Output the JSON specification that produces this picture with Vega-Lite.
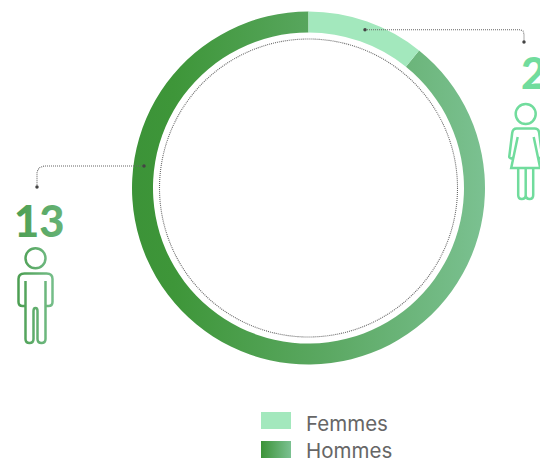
{"$schema":"https://vega.github.io/schema/vega-lite/v6.json","width":540,"height":461,"padding":0,"autosize":{"type":"none"},"background":"#ffffff","config":{"view":{"stroke":null}},
"datasets":{"genres":[{"genre":"Femmes","effectif":1.57},{"genre":"Hommes","effectif":13}],"liens":[{"lien":"f","lx":365,"ly":29.7},{"lien":"f","lx":520,"ly":29.7},{"lien":"f","lx":523,"ly":31},{"lien":"f","lx":524,"ly":34},{"lien":"f","lx":524,"ly":42},{"lien":"h","lx":144,"ly":166},{"lien":"h","lx":44,"ly":166},{"lien":"h","lx":39,"ly":168},{"lien":"h","lx":37,"ly":172},{"lien":"h","lx":37,"ly":187}],"bouts":[{"lx":365,"ly":29.7},{"lx":524,"ly":42},{"lx":144,"ly":166},{"lx":37,"ly":187}]},
"layer":[
{"data":{"name":"genres"},"transform":[{"stack":"effectif","groupby":[],"sort":[{"field":"genre"}],"as":["t0","t1"]},{"filter":"datum.genre==='Hommes'"}],"mark":{"type":"arc","radius":176.5,"radius2":155.5,"strokeWidth":0,"fill":{"gradient":"linear","x1":0,"x2":1,"y1":0,"y2":0,"stops":[{"offset":0,"color":"#3c9338"},{"offset":0.12,"color":"#3e9639"},{"offset":0.55,"color":"#5ba862"},{"offset":1,"color":"#7bc191"}]}},
"encoding":{"x":{"datum":308.5,"type":"quantitative","scale":{"domain":[0,540],"range":[0,540],"nice":false,"zero":false},"axis":null},"y":{"datum":188,"type":"quantitative","scale":{"domain":[0,461],"range":[0,461],"nice":false,"zero":false},"axis":null},
"theta":{"field":"t0","type":"quantitative","scale":{"domain":[0,14.57]}},"theta2":{"field":"t1"}}},
{"data":{"name":"genres"},"transform":[{"stack":"effectif","groupby":[],"sort":[{"field":"genre"}],"as":["t0","t1"]},{"filter":"datum.genre==='Femmes'"}],"mark":{"type":"arc","radius":176.5,"radius2":155.5,"strokeWidth":0,"fill":"#a3e8bd"},
"encoding":{"x":{"datum":308.5,"type":"quantitative"},"y":{"datum":188,"type":"quantitative"},"theta":{"field":"t0","type":"quantitative"},"theta2":{"field":"t1"}}},
{"data":{"values":[{}]},"mark":{"type":"point","shape":"circle","filled":false,"opacity":1,"stroke":"#666666","strokeWidth":1.1,"strokeDash":[1,1],"size":88804},"encoding":{"x":{"datum":308.5,"type":"quantitative"},"y":{"datum":188,"type":"quantitative"}}},
{"data":{"name":"liens"},"mark":{"type":"line","stroke":"#666666","strokeWidth":1.1,"strokeDash":[1,1]},"encoding":{"x":{"field":"lx","type":"quantitative"},"y":{"field":"ly","type":"quantitative"},"detail":{"field":"lien"},"order":{"value":null}}},
{"data":{"name":"bouts"},"mark":{"type":"point","shape":"circle","filled":true,"fill":"#444444","opacity":1,"size":12,"strokeWidth":0},"encoding":{"x":{"field":"lx","type":"quantitative"},"y":{"field":"ly","type":"quantitative"}}},
{"data":{"values":[{"n":"13"}]},"mark":{"type":"text","font":"Lato","fontWeight":900,"fontSize":43.5,"align":"left","baseline":"alphabetic","fill":{"gradient":"linear","x1":0,"x2":1,"y1":0,"y2":0,"stops":[{"offset":0,"color":"#4c9e52"},{"offset":1,"color":"#67b377"}]}},"encoding":{"x":{"datum":14,"type":"quantitative"},"y":{"datum":237,"type":"quantitative"},"text":{"field":"n"}}},
{"data":{"values":[{"n":"2"}]},"mark":{"type":"text","font":"Lato","fontWeight":900,"fontSize":43.5,"align":"left","baseline":"alphabetic","fill":"#71dc9d"},"encoding":{"x":{"datum":521,"type":"quantitative"},"y":{"datum":88.5,"type":"quantitative"},"text":{"field":"n"}}},
{"data":{"values":[{}]},"mark":{"type":"point","filled":false,"opacity":1,"size":4,"strokeWidth":2.5,"stroke":{"gradient":"linear","x1":0,"x2":1,"y1":0,"y2":0,"stops":[{"offset":0,"color":"#4c9e52"},{"offset":1,"color":"#74bd88"}]},
"shape":"M-10,-41.7a10,10 0 1,0 20,0a10,10 0 1,0 -20,0M-10,-19V39Q-10,43 -6,43Q-2,43 -2,39V11Q-2,8 0,8Q2,8 2,11V39Q2,43 6,43Q10,43 10,39V-19M-10,6H-13Q-17,6 -17,2V-21Q-17,-26.5 -11,-26.5H11Q17,-26.5 17,-21V2Q17,6 13,6H10"},"encoding":{"x":{"datum":35.5,"type":"quantitative"},"y":{"datum":300,"type":"quantitative"}}},
{"data":{"values":[{}]},"mark":{"type":"point","filled":false,"opacity":1,"size":4,"strokeWidth":2.5,"stroke":"#71dc9d",
"shape":"M-10,-36a10,10 0 1,0 20,0a10,10 0 1,0 -20,0M-8,-13L-14.5,18H14.5L8,-13M-11.7,6.7Q-15,10 -16.5,7L-13.5,-17Q-13,-21.5 -9,-21.5H9Q13,-21.5 13.5,-17L16.5,7Q15,10 11.7,6.7M-7.5,18V45Q-7.5,49 -4,49Q0,49 0,45V18M0,45Q0,49 4,49Q7.5,49 7.5,45V18"},"encoding":{"x":{"datum":525.7,"type":"quantitative"},"y":{"datum":150,"type":"quantitative"}}},
{"data":{"values":[{"genre":"Femmes"}]},"mark":{"type":"rect","fill":"#a3e8bd"},"encoding":{"x":{"datum":261,"type":"quantitative"},"x2":{"datum":291},"y":{"datum":412,"type":"quantitative"},"y2":{"datum":429}}},
{"data":{"values":[{"genre":"Hommes"}]},"mark":{"type":"rect","fill":{"gradient":"linear","x1":0,"x2":1,"y1":0,"y2":0,"stops":[{"offset":0,"color":"#3c9338"},{"offset":1,"color":"#7bc191"}]}},"encoding":{"x":{"datum":261,"type":"quantitative"},"x2":{"datum":291},"y":{"datum":441,"type":"quantitative"},"y2":{"datum":458}}},
{"data":{"values":[{"genre":"Femmes"}]},"mark":{"type":"text","font":"Inter","fontSize":20.5,"fill":"#666666","align":"left","baseline":"alphabetic"},"encoding":{"x":{"datum":306,"type":"quantitative"},"y":{"datum":430.5,"type":"quantitative"},"text":{"field":"genre"}}},
{"data":{"values":[{"genre":"Hommes"}]},"mark":{"type":"text","font":"Inter","fontSize":20.5,"fill":"#666666","align":"left","baseline":"alphabetic"},"encoding":{"x":{"datum":306,"type":"quantitative"},"y":{"datum":457.5,"type":"quantitative"},"text":{"field":"genre"}}}
]}
